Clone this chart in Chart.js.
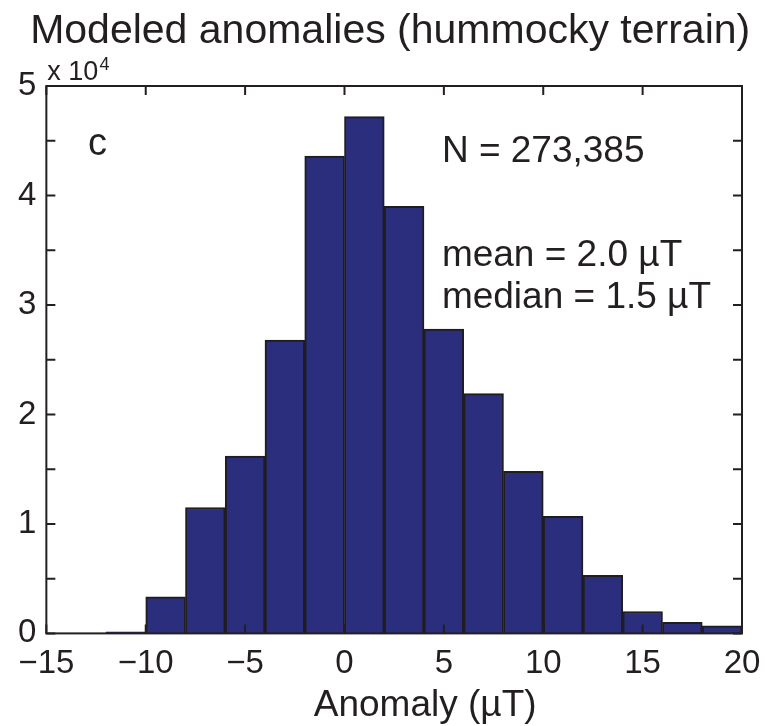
<!DOCTYPE html>
<html>
<head>
<meta charset="utf-8">
<script src="https://cdn.jsdelivr.net/npm/chart.js@4/dist/chart.umd.min.js"></script>
<style>
  body { margin: 0; background: #fff; }
  canvas { display: block; }
</style>
</head>
<body>
<canvas id="histChart" width="765" height="726"></canvas>
<script>
// histogram bins (bin centres, 2 uT wide) and counts in units of 10^4
const binCenters = [-11, -9, -7, -5, -3, -1, 1, 3, 5, 7, 9, 11, 13, 15, 17, 19];
const counts = [0.015, 0.335, 1.15, 1.62, 2.68, 4.36, 4.72, 3.90, 2.78, 2.19, 1.48, 1.07, 0.53, 0.20, 0.10, 0.07];
const xTicks = [-15, -10, -5, 0, 5, 10, 15, 20];
const yTicks = [0, 0.5, 1, 1.5, 2, 2.5, 3, 3.5, 4, 4.5, 5];
const statLines = ['N = 273,385', 'mean = 2.0 \u00b5T', 'median = 1.5 \u00b5T'];
const titleText = 'Modeled anomalies (hummocky terrain)';

const FONT = '"Liberation Sans", Arial, Helvetica, sans-serif';
const INK = '#231f20';

// MATLAB-style box with inward ticks + text annotations
const matlabBox = {
  id: 'matlabBox',
  afterDatasetsDraw(chart) {
    const { ctx, chartArea: a, scales: { x, y } } = chart;
    ctx.save();
    ctx.strokeStyle = INK;
    ctx.lineWidth = 2;
    const len = 9;
    ctx.beginPath();
    xTicks.forEach(v => {
      const px = x.getPixelForValue(v);
      ctx.moveTo(px, a.bottom); ctx.lineTo(px, a.bottom - len);
      ctx.moveTo(px, a.top); ctx.lineTo(px, a.top + len);
    });
    yTicks.forEach(v => {
      const py = y.getPixelForValue(v);
      ctx.moveTo(a.left, py); ctx.lineTo(a.left + len, py);
      ctx.moveTo(a.right, py); ctx.lineTo(a.right - len, py);
    });
    ctx.stroke();
    ctx.strokeRect(a.left, a.top, a.right - a.left, a.bottom - a.top);

    ctx.fillStyle = INK;
    ctx.textBaseline = 'alphabetic';

    // title
    ctx.textAlign = 'center';
    ctx.font = '41px ' + FONT;
    ctx.fillText(titleText, (a.left + a.right) / 2 - 4, 43);

    ctx.textAlign = 'left';
    // exponent label above y axis
    ctx.font = '27px ' + FONT;
    ctx.fillText('x 10', a.left + 1, a.top - 6);
    const w = ctx.measureText('x 10').width;
    ctx.font = '18px ' + FONT;
    ctx.fillText('4', a.left + 2 + w, a.top - 16);

    // panel letter
    ctx.font = '38px ' + FONT;
    ctx.fillText('c', x.getPixelForValue(-12.9), y.getPixelForValue(4.37));

    // stats
    ctx.font = '37px ' + FONT;
    const sx = x.getPixelForValue(4.9);
    ctx.fillText(statLines[0], sx, y.getPixelForValue(4.31));
    ctx.fillText(statLines[1], sx, y.getPixelForValue(3.36));
    ctx.fillText(statLines[2], sx, y.getPixelForValue(2.97));

    // x label
    ctx.font = '37px ' + FONT;
    ctx.textAlign = 'center';
    ctx.fillText('Anomaly (\u00b5T)', (a.left + a.right) / 2 + 31, 716);
    ctx.restore();
  }
};

new Chart(document.getElementById('histChart'), {
  type: 'bar',
  data: {
    datasets: [{
      data: binCenters.map((c, i) => ({ x: c, y: counts[i] })),
      backgroundColor: 'rgb(42, 46, 124)',
      borderColor: '#1f1d22',
      borderWidth: 2,
      barPercentage: 1,
      categoryPercentage: 1
    }]
  },
  options: {
    responsive: false,
    devicePixelRatio: 1,
    animation: false,
    layout: { padding: { left: 8, right: 23, top: 86, bottom: 31 } },
    plugins: {
      legend: { display: false },
      tooltip: { enabled: false },
      title: { display: false }
    },
    scales: {
      x: {
        type: 'linear',
        min: -15,
        max: 20,
        offset: false,
        grid: { display: false, drawTicks: false, tickLength: 0 },
        border: { display: false },
        afterBuildTicks: s => { s.ticks = xTicks.map(v => ({ value: v })); },
        afterFit: s => { s.paddingLeft = 0; s.paddingRight = 0; },
        ticks: {
          color: INK,
          padding: 11,
          maxRotation: 0,
          font: { family: FONT, size: 33 },
          callback: v => (v < 0 ? '\u2212' + Math.abs(v) : String(v))
        }
      },
      y: {
        min: 0,
        max: 5,
        grid: { display: false, drawTicks: false, tickLength: 0 },
        border: { display: false },
        afterBuildTicks: s => { s.ticks = yTicks.map(v => ({ value: v })); },
        ticks: {
          color: INK,
          padding: 10,
          autoSkip: false,
          font: { family: FONT, size: 33 },
          callback: v => (Number.isInteger(v) ? String(v) : '')
        }
      }
    }
  },
  plugins: [matlabBox]
});
</script>
</body>
</html>
